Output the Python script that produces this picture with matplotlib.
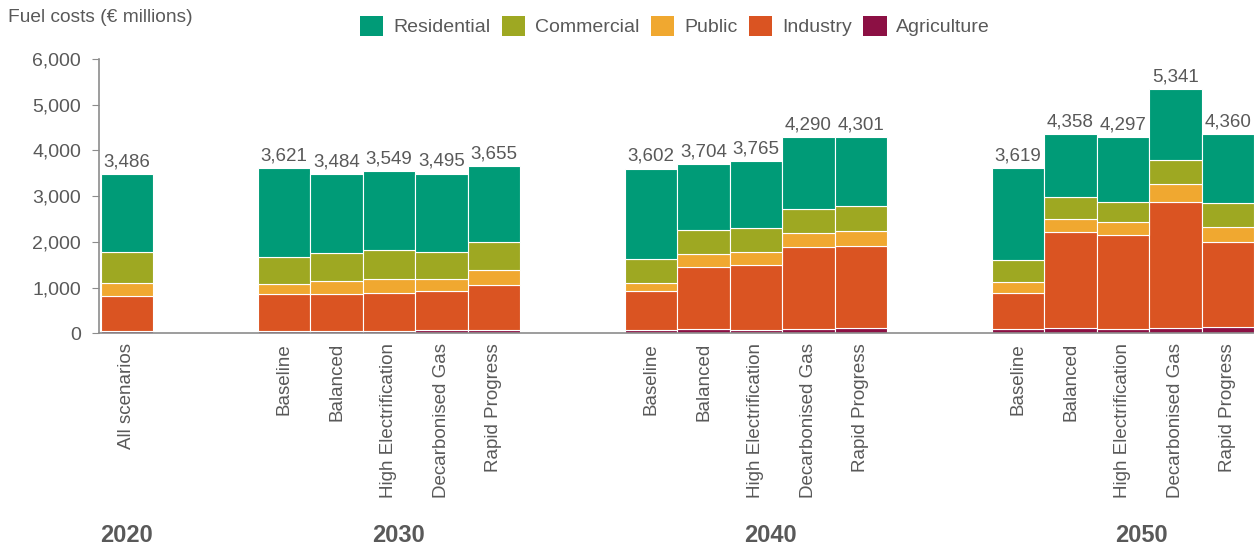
import matplotlib
matplotlib.use("Agg")
import matplotlib.pyplot as plt
from matplotlib.patches import Patch
import numpy as np

plt.rcParams['font.family'] = ['Liberation Sans', 'DejaVu Sans']

# ---- data ----
scenarios = ["All scenarios",
             "Baseline", "Balanced", "High Electrification", "Decarbonised Gas", "Rapid Progress",
             "Baseline", "Balanced", "High Electrification", "Decarbonised Gas", "Rapid Progress",
             "Baseline", "Balanced", "High Electrification", "Decarbonised Gas", "Rapid Progress"]
years = ["2020", "2030", "2040", "2050"]
totals = [3486, 3621, 3484, 3549, 3495, 3655, 3602, 3704, 3765, 4290, 4301,
          3619, 4358, 4297, 5341, 4360]
agriculture = [60, 44, 57, 51, 65, 72, 80, 87, 65, 101, 123, 87, 123, 94, 123, 138]
industry = [763, 823, 810, 838, 861, 985, 839, 1371, 1423, 1787, 1795,
            788, 2087, 2050, 2757, 1860]
public = [284, 212, 277, 306, 262, 321, 189, 277, 291, 314, 328,
          248, 285, 285, 394, 335]
commercial = [679, 597, 606, 621, 584, 620, 511, 525, 525, 525, 547,
              481, 488, 451, 525, 512]
residential = [t - a - i - p - c for t, a, i, p, c in
               zip(totals, agriculture, industry, public, commercial)]

series_names = ["Residential", "Commercial", "Public", "Industry", "Agriculture"]
colors = {"Residential": "#009B77", "Commercial": "#9EA822", "Public": "#F0A830",
          "Industry": "#DA5422", "Agriculture": "#8C1044"}

# positions: 2020 single bar, then groups of 5 with gaps
positions = [0, 3, 4, 5, 6, 7, 10, 11, 12, 13, 14, 17, 18, 19, 20, 21]
year_pos = [0, 5.19, 12.27, 19.35]

text_c = "#595959"
fig = plt.figure(figsize=(12.54, 5.47), dpi=100)
ax = fig.add_axes([99/1254, 1 - 333.3/547, 1 - 99/1254, (333.3 - 59)/547])

stack_order = [("Agriculture", agriculture), ("Industry", industry), ("Public", public),
               ("Commercial", commercial), ("Residential", residential)]
bottom = np.zeros(len(positions))
for name, vals in stack_order:
    v = np.array(vals, dtype=float)
    ax.bar(positions, v, bottom=bottom, width=1.0, color=colors[name],
           edgecolor="white", linewidth=0.8, zorder=2)
    bottom += v

for x, t in zip(positions, totals):
    ax.text(x, t + 80, f"{t:,}", ha="center", va="bottom", fontsize=13.5, color=text_c)

ax.set_ylim(0, 6000)
ax.set_xlim(-0.53, 21.5)
ax.set_yticks(range(0, 6001, 1000))
ax.set_yticklabels([f"{v:,}" for v in range(0, 6001, 1000)])
ax.set_xticks(positions)
ax.set_xticklabels(scenarios, rotation=90, va="top", ha="center")
ax.tick_params(axis="y", labelsize=14, colors=text_c, length=5, color="#8c8c8c", pad=8)
ax.tick_params(axis="x", labelsize=13.5, colors=text_c, length=0, pad=7)
for s in ["top", "right"]:
    ax.spines[s].set_visible(False)
for s in ["left", "bottom"]:
    ax.spines[s].set_color("#8c8c8c")
    ax.spines[s].set_linewidth(1.2)
    ax.spines[s].set_zorder(3)

year_tr = matplotlib.transforms.blended_transform_factory(ax.transData, fig.transFigure)
for yp, y in zip(year_pos, years):
    ax.text(yp, 1 - 535/547, y, transform=year_tr, ha="center", va="center",
            fontsize=17, fontweight="bold", color=text_c)

fig.text(8/1254, 1 - 18/547, "Fuel costs (€ millions)", ha="left", va="center",
         fontsize=13.8, color=text_c)

handles = [Patch(facecolor=colors[n], edgecolor="none") for n in series_names]
leg = fig.legend(handles, series_names, loc="center", bbox_to_anchor=(675/1254, 1 - 26/547),
                 ncol=5, frameon=False, fontsize=14, handlelength=1.2, handleheight=1.2,
                 handletextpad=0.5, columnspacing=0.6, borderaxespad=0)
for t in leg.get_texts():
    t.set_color(text_c)

fig.savefig("out.png", dpi=100)
